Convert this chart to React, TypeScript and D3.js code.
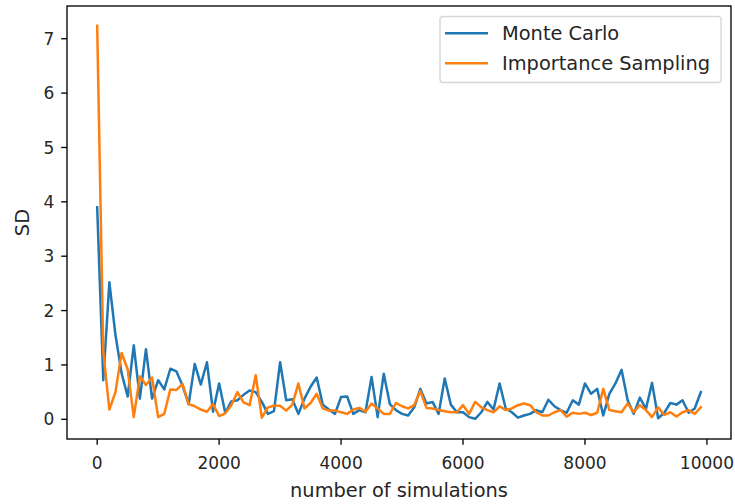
import React from "react";
import * as d3 from "d3";

// Number of simulations per run: 0, 100, ..., 9900
const simulations: number[] = Array.from({ length: 100 }, (_, i) => i * 100);

// Standard deviation of the plain Monte Carlo estimator
const monteCarloSD: number[] = [
  3.9, 0.72, 2.52, 1.55, 0.85, 0.42, 1.36, 0.38, 1.29, 0.38,
  0.72, 0.55, 0.93, 0.88, 0.62, 0.28, 1.02, 0.64, 1.05, 0.14,
  0.66, 0.12, 0.33, 0.35, 0.45, 0.53, 0.5, 0.32, 0.1, 0.15,
  1.05, 0.35, 0.37, 0.1, 0.38, 0.6, 0.77, 0.27, 0.18, 0.1,
  0.41, 0.42, 0.1, 0.17, 0.13, 0.78, 0.04, 0.84, 0.28, 0.17,
  0.1, 0.07, 0.22, 0.56, 0.29, 0.32, 0.1, 0.75, 0.27, 0.13,
  0.13, 0.04, 0.01, 0.13, 0.32, 0.18, 0.66, 0.2, 0.13, 0.03,
  0.07, 0.1, 0.17, 0.13, 0.36, 0.24, 0.17, 0.12, 0.35, 0.27,
  0.66, 0.47, 0.56, 0.07, 0.47, 0.66, 0.91, 0.35, 0.1, 0.4,
  0.19, 0.67, 0.02, 0.12, 0.3, 0.27, 0.35, 0.12, 0.2, 0.5,
];

// Standard deviation of the importance sampling estimator
const importanceSD: number[] = [
  7.24, 1.25, 0.18, 0.5, 1.22, 0.92, 0.04, 0.79, 0.63, 0.77,
  0.04, 0.1, 0.55, 0.54, 0.65, 0.28, 0.24, 0.18, 0.14, 0.28,
  0.06, 0.11, 0.26, 0.5, 0.31, 0.26, 0.81, 0.03, 0.22, 0.25,
  0.25, 0.16, 0.27, 0.66, 0.2, 0.3, 0.47, 0.2, 0.16, 0.16,
  0.13, 0.1, 0.18, 0.21, 0.14, 0.29, 0.2, 0.1, 0.1, 0.3,
  0.24, 0.2, 0.26, 0.52, 0.21, 0.2, 0.17, 0.15, 0.13, 0.13,
  0.26, 0.1, 0.32, 0.22, 0.17, 0.13, 0.24, 0.17, 0.2, 0.26,
  0.29, 0.26, 0.13, 0.07, 0.07, 0.13, 0.17, 0.05, 0.12, 0.1,
  0.12, 0.08, 0.12, 0.56, 0.17, 0.15, 0.13, 0.29, 0.13, 0.26,
  0.17, 0.04, 0.22, 0.08, 0.13, 0.05, 0.13, 0.17, 0.1, 0.22,
];

const xTicks: number[] = [0, 2000, 4000, 6000, 8000, 10000];
const yTicks: number[] = [0, 1, 2, 3, 4, 5, 6, 7];
const seriesNames: string[] = ["Monte Carlo", "Importance Sampling"];
const seriesColors: string[] = ["#1f77b4", "#ff7f0e"];

const W = 735;
const H = 504;
const left = 67;
const right = 731;
const top = 6;
const bottom = 439;
const font = "'DejaVu Sans', sans-serif";
const fs = 19.4;
const tickFs = 17;

function padded(min: number, max: number): [number, number] {
  const m = (max - min) * 0.05;
  return [min - m, max + m];
}

export default function App() {
  const xs = d3
    .scaleLinear()
    .domain(padded(d3.min(simulations)!, d3.max(simulations)!))
    .range([left, right]);
  const allY = [...monteCarloSD, ...importanceSD];
  const ys = d3
    .scaleLinear()
    .domain(padded(Math.min(0, d3.min(allY)!), d3.max(allY)!))
    .range([bottom, top]);

  const line = d3
    .line<number>()
    .x((_, i) => xs(simulations[i]))
    .y((d) => ys(d));

  const series = [monteCarloSD, importanceSD];
  const tickLen = 5.8;

  return (
    <svg
      width={W}
      height={H}
      style={{ position: "absolute", left: 0, top: 0, background: "#fff" }}
      fontFamily={font}
    >
      <defs>
        <clipPath id="plotArea">
          <rect x={left} y={top} width={right - left} height={bottom - top} />
        </clipPath>
      </defs>
      <g clipPath="url(#plotArea)">
        {series.map((s, k) => (
          <path
            key={k}
            d={line(s) ?? ""}
            fill="none"
            stroke={seriesColors[k]}
            strokeWidth={2.5}
            strokeLinejoin="round"
            strokeLinecap="square"
          />
        ))}
      </g>
      <rect
        x={left}
        y={top}
        width={right - left}
        height={bottom - top}
        fill="none"
        stroke="#000"
        strokeWidth={1.33}
      />
      {xTicks.map((t) => (
        <g key={t} transform={`translate(${xs(t)},${bottom})`}>
          <line y1={0} y2={tickLen} stroke="#000" strokeWidth={1.33} />
          <text y={tickLen + 24.5} textAnchor="middle" fontSize={tickFs} fill="#262626">
            {t}
          </text>
        </g>
      ))}
      {yTicks.map((t) => (
        <g key={t} transform={`translate(${left},${ys(t)})`}>
          <line x1={0} x2={-tickLen} stroke="#000" strokeWidth={1.33} />
          <text x={-tickLen - 7} dy="0.36em" textAnchor="end" fontSize={tickFs} fill="#262626">
            {t}
          </text>
        </g>
      ))}
      <text x={(left + right) / 2} y={497} textAnchor="middle" fontSize={fs} fill="#262626">
        number of simulations
      </text>
      <text
        transform={`translate(29,${(top + bottom) / 2}) rotate(-90)`}
        textAnchor="middle"
        fontSize={fs}
        fill="#262626"
      >
        SD
      </text>
      <g>
        <rect
          x={440}
          y={16.5}
          width={281}
          height={66}
          rx={3}
          fill="#fff"
          fillOpacity={0.8}
          stroke="#d6d6d6"
          strokeWidth={1.33}
        />
        {seriesNames.map((name, k) => (
          <g key={name} transform={`translate(0,${33.3 + k * 30})`}>
            <line x1={445} x2={488} stroke={seriesColors[k]} strokeWidth={2.5} />
            <text x={502} dy="0.36em" fontSize={fs} fill="#262626">
              {name}
            </text>
          </g>
        ))}
      </g>
    </svg>
  );
}
